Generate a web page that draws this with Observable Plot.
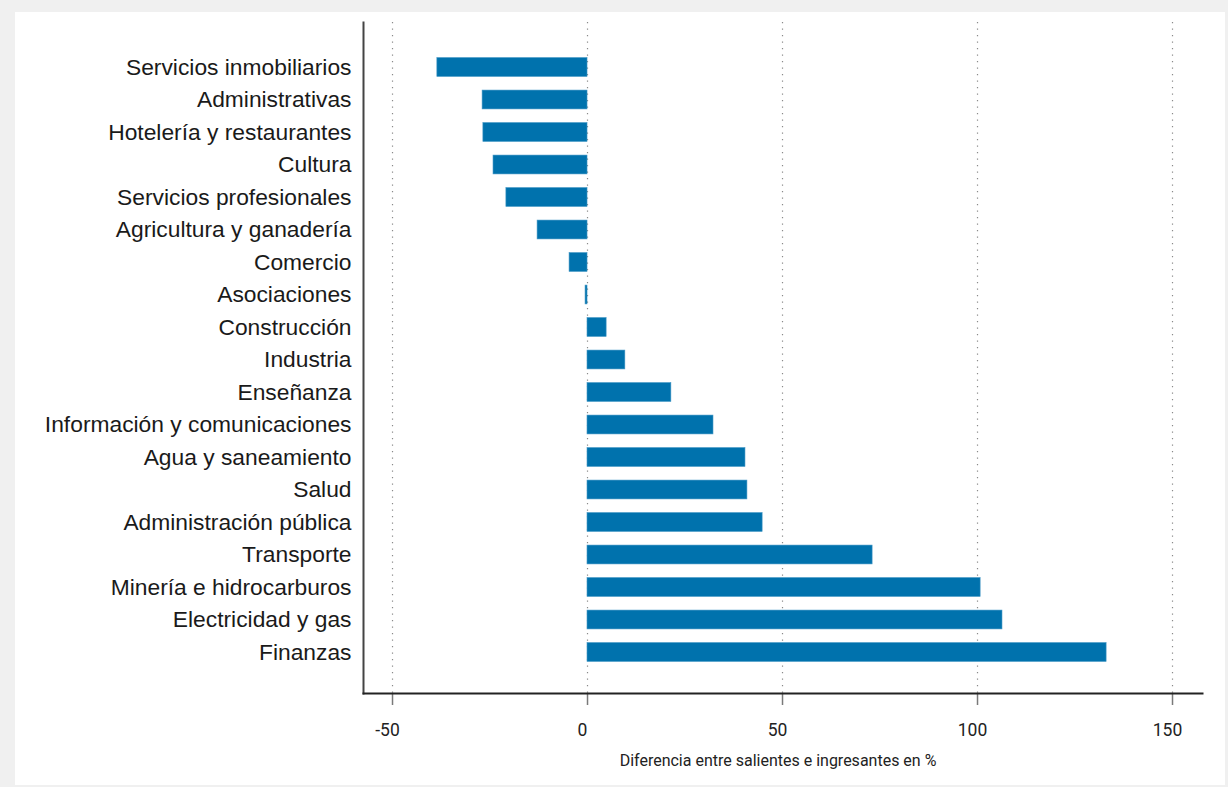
<!DOCTYPE html>
<html>
<head>
<meta charset="utf-8">
<script src="https://cdn.jsdelivr.net/npm/d3@7"></script>
<script src="https://cdn.jsdelivr.net/npm/@observablehq/plot@0.6"></script>
<style>
  html, body { margin: 0; padding: 0; background: #f0f0f0; }
  #panel { position: absolute; left: 15px; top: 12px; width: 1210px; height: 773px; background: #ffffff; }
  #panel svg { display: block; }
</style>
</head>
<body>
<div id="panel"></div>
<script>
const sectors = [
  "Servicios inmobiliarios", "Administrativas", "Hotelería y restaurantes", "Cultura",
  "Servicios profesionales", "Agricultura y ganadería", "Comercio", "Asociaciones",
  "Construcción", "Industria", "Enseñanza", "Información y comunicaciones",
  "Agua y saneamiento", "Salud", "Administración pública", "Transporte",
  "Minería e hidrocarburos", "Electricidad y gas", "Finanzas"
];
const values = [
  -38.5, -26.9, -26.7, -24.1, -20.8, -12.8, -4.6, -0.5,
  4.9, 9.7, 21.5, 32.3, 40.5, 41.0, 44.9, 73.1, 100.8, 106.4, 133.1
];
const xTicks = [-50, 0, 50, 100, 150];
const xLabel = "Diferencia entre salientes e ingresantes en %";

const data = sectors.map((s, i) => ({sector: s, value: values[i]}));
const xMin = -57.44, xMax = 157.69;

const chart = Plot.plot({
  width: 1210,
  height: 773,
  marginLeft: 348,
  marginRight: 23,
  marginTop: 10,
  marginBottom: 92,
  style: {background: "#ffffff", fontFamily: "Roboto, sans-serif", color: "#222"},
  x: {domain: [xMin, xMax], ticks: xTicks},
  y: {domain: sectors, range: [38.75, 656.25], paddingInner: 0.42, paddingOuter: 0.21, round: false},
  marks: [
    Plot.gridX(xTicks, {stroke: "#8a8a8a", strokeOpacity: 1, strokeWidth: 1.2, strokeDasharray: "1.2,5.3"}),
    Plot.barX(data, {x1: 0, x2: "value", y: "sector", fill: "#0072ad", stroke: "#3f95c4", strokeWidth: 0.6}),
    Plot.axisY({tickSize: 0, tickPadding: 12, fontSize: 22.8, fontFamily: "'Liberation Sans', Arial, sans-serif", fill: "#1a1a1a", label: null}),
    Plot.axisX(xTicks, {tickSize: 12, stroke: "#7a7a7a", strokeWidth: 1.5, label: null, tickFormat: () => ""}),
    Plot.axisX(xTicks, {tickSize: 0, tickPadding: 30, fontSize: 17.5, fill: "#222", label: null, tickFormat: d => String(d), dx: -5}),
    Plot.frame({anchor: "left", stroke: "#444", strokeWidth: 2}),
    Plot.frame({anchor: "bottom", stroke: "#222", strokeWidth: 2}),
    Plot.text([xLabel], {frameAnchor: "bottom", dy: 72, dx: -5, fontSize: 16, fill: "#222"})
  ]
});
document.getElementById("panel").appendChild(chart);
</script>
</body>
</html>
